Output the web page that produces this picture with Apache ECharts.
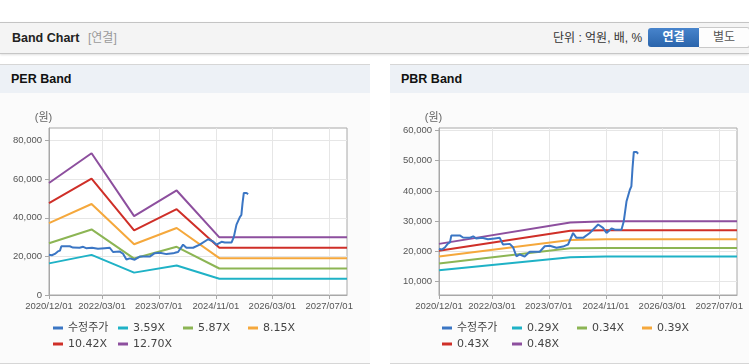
<!DOCTYPE html>
<html lang="ko">
<head>
<meta charset="utf-8">
<script src="https://cdn.jsdelivr.net/npm/echarts@6/dist/echarts.min.js"></script>
<style>
  body { margin: 0; width: 749px; height: 364px; background: #fff; overflow: hidden; position: relative;
         font-family: "Liberation Sans", "Noto Sans CJK KR", sans-serif; }
  .top { position: absolute; left: 0; top: 22px; width: 749px; height: 30px; background: #f4f4f4;
         border-top: 1px solid #c4c4c4; border-bottom: 1px solid #c6c6c6; box-shadow: 0 1px 2px rgba(0,0,0,.12); }
  .top span { position: absolute; top: 0; line-height: 30px; }
  .top .title { left: 12px; font-size: 12.5px; font-weight: bold; color: #222; }
  .top .sub { left: 88px; font-size: 12px; color: #9a9a9a; }
  .top .unit { left: 553px; font-size: 12px; color: #333; }
  .btn { position: absolute; top: 5px; height: 19px; line-height: 19px; font-size: 12px; text-align: center; }
  .btn.on { left: 648px; width: 51px; color: #fff; font-weight: bold; border-radius: 3px 0 0 3px;
            background: linear-gradient(#4784cc, #2a64ab); }
  .btn.off { left: 699px; width: 50px; color: #555; background: #fdfdfd; border: 1px solid #c9c9c9;
             border-left: none; top: 4px; border-radius: 0 3px 3px 0; }
  .panel { position: absolute; top: 64px; height: 298px; background: #fbfbfb;
           border-top: 1px solid #d6d6d6; border-bottom: 1px solid #d6d6d6; }
  .panel .hd { height: 28px; line-height: 28px; background: #edf1f6; font-size: 12.5px; font-weight: bold;
               color: #111; padding-left: 11px; }
  .chart { position: absolute; top: 93px; height: 269px; }
</style>
</head>
<body>
<div class="top">
  <span class="title">Band Chart</span>
  <span class="sub">[연결]</span>
  <span class="unit">단위 : 억원, 배, %</span>
  <div class="btn on">연결</div>
  <div class="btn off">별도</div>
</div>
<div class="panel" style="left:0;width:370px"><div class="hd">PER Band</div></div>
<div class="panel" style="left:390px;width:359px"><div class="hd">PBR Band</div></div>
<div id="per" class="chart" style="left:0;width:370px"></div>
<div id="pbr" class="chart" style="left:390px;width:359px"></div>
<script>
const xTicks = ['2020/12/01', '2022/03/01', '2023/07/01', '2024/11/01', '2026/03/01', '2027/07/01'];
const xRange = ['2020/12/01', '2027/12/01'];

// 수정주가 (shared by both charts)
const priceDates = ['2020/12/01', '2020/12/25', '2021/01/20', '2021/02/15', '2021/03/05', '2021/03/17',
  '2021/05/28', '2021/06/25', '2021/08/20', '2021/09/20', '2021/10/15', '2021/12/05', '2022/01/25',
  '2022/03/24', '2022/05/06', '2022/06/03', '2022/07/31', '2022/08/28', '2022/09/26', '2022/10/25',
  '2022/12/06', '2023/01/18', '2023/04/14', '2023/05/27', '2023/07/09', '2023/09/05', '2023/10/31',
  '2023/11/24', '2023/12/13', '2024/01/25', '2024/02/23', '2024/04/20', '2024/06/16', '2024/08/27',
  '2024/10/08', '2024/11/07', '2024/12/20', '2025/01/17', '2025/03/15', '2025/04/04', '2025/04/27',
  '2025/05/26', '2025/06/08', '2025/06/18', '2025/06/29', '2025/07/22', '2025/08/05'];
const priceValues = [20900, 20600, 21300, 22600, 23000, 25300,
  25300, 24600, 24500, 25000, 24300, 24500, 24000,
  24300, 24500, 22300, 22500, 21400, 18400, 19000,
  18300, 19900, 19900, 21700, 21900, 21200, 21600,
  22000, 22300, 26100, 24500, 24500, 26100, 28900,
  27800, 26100, 27600, 27200, 27200, 30000, 36500,
  40400, 41500, 47600, 52900, 52900, 52300];

// PER band
const perDates = ['2020/12/01', '2021/12/01', '2022/12/01', '2023/12/01', '2024/12/01', '2027/12/01'];
const per359 = [16400, 20800, 11600, 15300, 8450, 8450];
const per587 = [26850, 34000, 18900, 25000, 13750, 13750];
const per815 = [37250, 47200, 26300, 34750, 19100, 19100];
const per1042 = [47600, 60300, 33550, 44500, 24550, 24550];
const per1270 = [58100, 73500, 40900, 54200, 29900, 29900];
const perYTicks = [0, 20000, 40000, 60000, 80000];
const perYRange = [0, 86600];

// PBR band
const pbrDates = ['2020/12/01', '2024/01/01', '2024/11/01', '2027/12/01'];
const pbr029 = [13800, 18100, 18300, 18300];
const pbr034 = [16050, 21050, 21100, 21100];
const pbr039 = [18350, 23750, 24000, 24000];
const pbr043 = [20200, 26800, 27000, 27000];
const pbr048 = [22500, 29600, 30000, 30000];
const pbrYTicks = [10000, 20000, 30000, 40000, 50000, 60000];
const pbrYRange = [5600, 60800];

const COLORS = ['#3b76c4', '#1fb2c6', '#8cb554', '#f5a83c', '#cf2f28', '#8d4f9e'];
const FONT = '"Liberation Sans", "Noto Sans CJK KR", sans-serif';

const toTime = s => { const [y, m, d] = s.split('/').map(Number); return new Date(y, m - 1, d).getTime(); };
const pad = n => (n < 10 ? '0' : '') + n;
const fmtDate = v => { const d = new Date(v); return d.getFullYear() + '/' + pad(d.getMonth() + 1) + '/' + pad(d.getDate()); };

function bandOption(bands, names, dates, yRange, yTicks, legendWidths, legendLeft) {
  const price = priceDates.map((d, i) => [toTime(d), priceValues[i]]);
  const series = bands.map((vals, k) => ({
    name: names[k + 1], type: 'line', showSymbol: false, symbol: 'none',
    data: dates.map((d, i) => [toTime(d), vals[i]]),
    lineStyle: { width: 2, color: COLORS[k + 1] }, itemStyle: { color: COLORS[k + 1] },
  }));
  series.push({
    name: names[0], type: 'line', showSymbol: false, symbol: 'none', data: price, z: 5,
    lineStyle: { width: 2, color: COLORS[0] }, itemStyle: { color: COLORS[0] },
  });
  // x is a plain value axis holding timestamps, so the custom tick dates can be placed exactly
  const tickTimes = xTicks.map(toTime);
  return {
    animation: false,
    textStyle: { fontFamily: FONT },
    grid: { left: 49, top: 35, width: 298, height: 167, show: true, backgroundColor: '#fff', borderColor: '#a8a8a8', borderWidth: 1 },
    legend: {
      left: legendLeft, top: 227, padding: 0, width: legendWidths.reduce((a, b) => a + b, 0) + 2, itemGap: 0,
      icon: 'rect', itemWidth: 10, itemHeight: 3,
      textStyle: { fontFamily: '"DejaVu Sans", "Noto Sans CJK KR", sans-serif', fontSize: 11, color: '#444', lineHeight: 16 },
      data: names.map((n, i) => ({ name: n, textStyle: { width: legendWidths[i % 4] - 15 } })),
    },
    xAxis: {
      type: 'value', min: toTime(xRange[0]), max: toTime(xRange[1]), scale: true,
      axisLine: { show: true, lineStyle: { color: '#a8a8a8' } },
      axisTick: { show: true, length: 4, customValues: tickTimes, lineStyle: { color: '#a8a8a8' } },
      axisLabel: { customValues: tickTimes, formatter: v => fmtDate(v), fontSize: 9.5, color: '#555', margin: 7 },
      splitLine: { show: true, lineStyle: { color: '#e6e6e6' } },
    },
    yAxis: {
      type: 'value', min: yRange[0], max: yRange[1],
      name: '(원)', nameLocation: 'end', nameGap: 5,
      nameTextStyle: { color: '#666', fontSize: 11, padding: [0, 11, 0, 0] },
      axisLine: { show: true, lineStyle: { color: '#a8a8a8' } },
      axisTick: { show: true, length: 4, customValues: yTicks, lineStyle: { color: '#a8a8a8' } },
      axisLabel: { customValues: yTicks, fontSize: 9.5, color: '#555', margin: 7,
                   formatter: v => v.toLocaleString('en-US') },
      splitLine: { show: true, lineStyle: { color: '#e6e6e6' } },
    },
    series,
  };
}

const perChart = echarts.init(document.getElementById('per'));
perChart.setOption(bandOption(
  [per359, per587, per815, per1042, per1270],
  ['수정주가', '3.59X', '5.87X', '8.15X', '10.42X', '12.70X'],
  perDates, perYRange, perYTicks, [65, 65, 65, 65], 53));

const pbrChart = echarts.init(document.getElementById('pbr'));
pbrChart.setOption(bandOption(
  [pbr029, pbr034, pbr039, pbr043, pbr048],
  ['수정주가', '0.29X', '0.34X', '0.39X', '0.43X', '0.48X'],
  pbrDates, pbrYRange, pbrYTicks, [70, 65, 65, 65], 52));
</script>
</body>
</html>
